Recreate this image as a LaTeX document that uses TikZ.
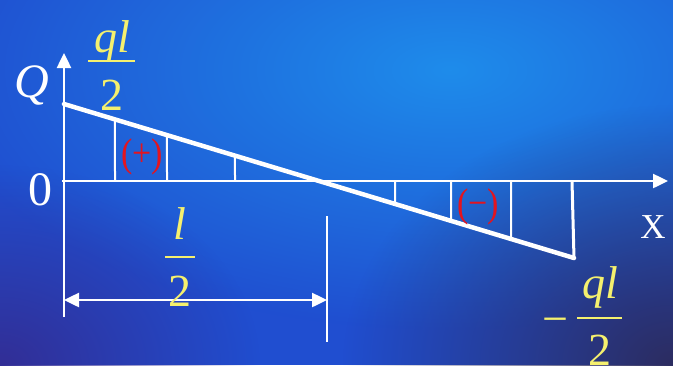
\documentclass[tikz,border=0pt]{standalone}
\usepackage{fontspec}
\setmainfont{Liberation Serif}
\usetikzlibrary{calc,arrows.meta,fadings}

\definecolor{bgbase}{RGB}{32,78,208}
\definecolor{bglight}{RGB}{30,140,235}
\definecolor{bgdark}{RGB}{44,44,96}
\definecolor{bgpurple}{RGB}{50,46,150}
\definecolor{labyellow}{RGB}{245,240,110}
\definecolor{signred}{RGB}{228,20,30}

\tikzfading[name=glowfade, inner color=transparent!0, outer color=transparent!100]

\tikzset{
	axis/.style={white, line width=2.5pt, -{Triangle[length=15pt,width=14pt]}},
	dimline/.style={white, line width=2.5pt, {Triangle[length=15pt,width=14pt]}-{Triangle[length=15pt,width=14pt]}},
	diag/.style={white, line width=4.5pt, line cap=round},
	hatch/.style={white, line width=2pt},
	fracbar/.style={labyellow, line width=2pt},
	big/.style={font=\fontsize{46}{50}\selectfont, inner sep=0pt},
	ylab/.style={big, text=labyellow, anchor=base},
	wlab/.style={big, text=white, anchor=base},
	sign/.style={font=\fontsize{40}{44}\selectfont, text=signred, inner sep=0pt, xscale=0.85},
}

\begin{document}
\begin{tikzpicture}[x=1pt, y=-1pt]
		%%%%% START %%%%%
		\useasboundingbox (0, 0) rectangle (673, 365);
		
		% background
		\fill[bgbase] (0, 0) rectangle (673, 365);
		\begin{scope}
			\clip (0, 0) rectangle (673, 365);
			\fill[bglight, path fading=glowfade] (450, 70) ellipse (520 and 260);
			\fill[bgdark, path fading=glowfade] (673, 365) ellipse (330 and 260);
			\fill[bgpurple, path fading=glowfade] (0, 365) ellipse (260 and 200);
		\end{scope}
		
		% axes
		\coordinate (orig) at (64, 181);
		\draw[axis] (62, 181) -- (668, 181);
		\draw[axis] (64, 317) -- (64, 53);
		
		% shear line
		\coordinate (qa) at (64, 104);
		\coordinate (qb) at (574, 258);
		\draw[diag] (qa) -- (qb);
		\draw[white, line width=3pt] (572, 181) -- (qb);
		\foreach \x in {115, 167, 235, 395, 451, 511}
			\draw[hatch] (\x, 181) -- ($(qa)!{(\x-64)/510}!(qb)$);
		
		% dimension l/2
		\draw[hatch] (327, 216) -- (327, 342);
		\draw[dimline] (64, 300) -- (327, 300);
		
		% labels
		\node[wlab, font=\fontsize{48}{52}\selectfont\itshape] (Qlab) at (32, 97) {Q};
		\node[wlab, font=\fontsize{48}{52}\selectfont] (zerolab) at (40, 205) {0};
		\node[wlab, font=\fontsize{35}{40}\selectfont] (Xlab) at (653, 238) {X};
		\node[sign] (plussign) at (142, 157) {(+)};
		\node[sign] (minussign) at (478, 207) {(−)};
		
		\node[ylab, font=\fontsize{46}{50}\selectfont\itshape] (qlnum) at (112, 52) {ql};
		\draw[fracbar] (88, 61) -- (135, 61);
		\node[ylab] (qlden) at (112, 110) {2};
		
		\node[ylab, font=\fontsize{46}{50}\selectfont\itshape] (hlnum) at (180, 239) {l};
		\draw[fracbar] (165, 257) -- (195, 257);
		\node[ylab] (hlden) at (180, 306) {2};
		
		\node[ylab] (mqlsign) at (555, 334) {−};
		\node[ylab, font=\fontsize{46}{50}\selectfont\itshape] (mqlnum) at (600, 298) {ql};
		\draw[fracbar] (577, 318) -- (622, 318);
		\node[ylab] (mqlden) at (600, 365) {2};
		%%%%% END %%%%%
\end{tikzpicture}
\end{document}
